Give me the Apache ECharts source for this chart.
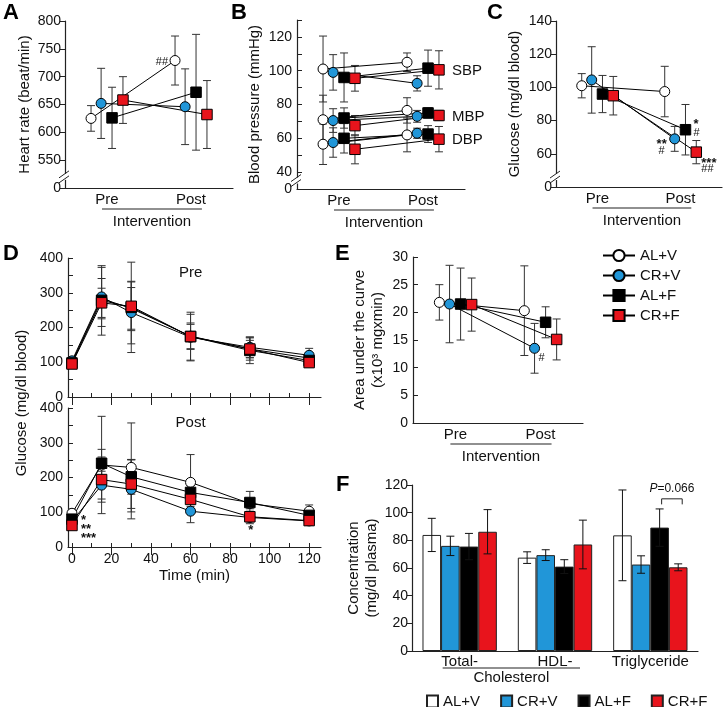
<!DOCTYPE html>
<html>
<head>
<meta charset="utf-8">
<title>Figure</title>
<script src="https://cdn.jsdelivr.net/npm/echarts@6/dist/echarts.min.js"></script>
<style>
  html, body { margin: 0; padding: 0; background: #fff; }
  #main { width: 725px; height: 707px; }
</style>
</head>
<body>
<div id="main"></div>
<script>
// groups (same order in every panel)
const groups = ['AL+V', 'CR+V', 'AL+F', 'CR+F'];
const phases = ['Pre', 'Post'];

// A: heart rate (beat/min), mean and SD
const hrPre = [625, 652, 626, 658];
const hrPreSd = [23, 63, 55, 42];
const hrPost = [729, 646, 672, 632];
const hrPostSd = [44, 68, 104, 61];

// B: blood pressure (mmHg)
const sbpPre = [101, 99, 96, 95.5];
const sbpPreSd = [19.5, 10.5, 14.5, 7.6];
const sbpPost = [105, 92.5, 101.5, 100.5];
const sbpPostSd = [5.5, 4.5, 10.7, 11.3];
const mbpPre = [71, 70.5, 72, 67.5];
const mbpPreSd = [14.5, 7, 6, 6];
const mbpPost = [76.5, 73, 75, 73.5];
const mbpPostSd = [7.5, 3.5, 3, 3];
const dbpPre = [56.5, 57.5, 60, 53.5];
const dbpPreSd = [12, 8.7, 8.7, 8.6];
const dbpPost = [62, 63, 62.5, 59.5];
const dbpPostSd = [10, 3, 5, 7.5];

// C: fasting glucose (mg/dl blood)
const gluPre = [101, 104.5, 96, 95];
const gluPreSd = [7.3, 20, 11.2, 11.6];
const gluPost = [97.5, 69, 74.5, 61];
const gluPostSd = [15.2, 7.5, 15.2, 7];

// D: OGTT glucose, one row per group
const times = [0, 15, 30, 60, 90, 120];
const timeTicks = [0, 20, 40, 60, 80, 100, 120];
const timeMinorTicks = [0, 10, 20, 30, 40, 50, 60, 70, 80, 90, 100, 110, 120];
const ogttPre = [
  [100, 283, 255, 175, 138, 112],
  [104, 288, 243, 172, 143, 120],
  [98, 278, 258, 174, 134, 105],
  [95, 271, 261, 174, 138, 99]
];
const ogttPreSd = [
  [12, 58, 60, 38, 25, 15],
  [10, 85, 90, 66, 30, 20],
  [12, 100, 130, 70, 38, 14],
  [10, 42, 70, 35, 32, 12]
];
const ogttPost = [
  [97, 236, 229, 186, 125, 103],
  [74, 178, 166, 103, 85, 75],
  [80, 241, 202, 157, 128, 91],
  [62, 194, 181, 137, 87, 76]
];
const ogttPostSd = [
  [12, 140, 128, 80, 15, 18],
  [10, 40, 85, 33, 18, 12],
  [12, 40, 50, 20, 32, 15],
  [10, 65, 70, 20, 15, 12]
];

// E: area under the curve (x10^3 mg x min)
const aucPre = [21.8, 21.5, 21.5, 21.4];
const aucPreSd = [3.2, 7, 6.5, 4.8];
const aucPost = [20.3, 13.5, 18.2, 15.1];
const aucPostSd = [8.1, 4.5, 2.8, 3.7];

// F: plasma lipids (mg/dl plasma), one row per group
const lipidCats = ['Total-', 'HDL-', 'Triglyceride'];
const lipid = [
  [83.9, 67.5, 83.6],
  [76, 69.3, 62.5],
  [75.5, 61, 89.2],
  [86.2, 77, 60.5]
];
const lipidSd = [
  [12, 4.2, 32.8],
  [7, 3.9, 6.3],
  [9.5, 5, 13.5],
  [16, 17.6, 2.5]
];

// look
const FONT = '"Liberation Sans", Arial, Helvetica, sans-serif';
const FILL = ['#ffffff', '#2196d8', '#000000', '#e8141c'];
const SYMBOL = ['circle', 'circle', 'rect', 'rect'];
const SIZE = [10, 10, 10.5, 10.5];
const XOFF = [-0.19, -0.07, 0.06, 0.19];
const ERR = '#333';
const INK = '#111';

const chart = echarts.init(document.getElementById('main'), null, { renderer: 'canvas' });

function renderErr(params, api) {
  const x = api.value(0);
  const lo = api.coord([x, api.value(1)]);
  const hi = api.coord([x, api.value(2)]);
  const w = 4;
  const st = { stroke: ERR, lineWidth: 1 };
  return {
    type: 'group',
    children: [
      { type: 'line', shape: { x1: lo[0], y1: lo[1], x2: hi[0], y2: hi[1] }, style: st },
      { type: 'line', shape: { x1: lo[0] - w, y1: lo[1], x2: lo[0] + w, y2: lo[1] }, style: st },
      { type: 'line', shape: { x1: hi[0] - w, y1: hi[1], x2: hi[0] + w, y2: hi[1] }, style: st }
    ]
  };
}

function renderBarErr(gi) {
  return function (params, api) {
    const k = api.value(0);
    const band = api.size([1, 0])[0];
    const off = (gi - 1.5) * band * 0.78 / 4;
    const lo = api.coord([k, api.value(1)]);
    const hi = api.coord([k, api.value(2)]);
    const x = lo[0] + off;
    const w = 4;
    const st = { stroke: '#111', lineWidth: 1 };
    return {
      type: 'group',
      children: [
        { type: 'line', shape: { x1: x, y1: lo[1], x2: x, y2: hi[1] }, style: st },
        { type: 'line', shape: { x1: x - w, y1: lo[1], x2: x + w, y2: lo[1] }, style: st },
        { type: 'line', shape: { x1: x - w, y1: hi[1], x2: x + w, y2: hi[1] }, style: st }
      ]
    };
  };
}

function groupLine(name, ax, i, pts, withSymbols) {
  return {
    type: 'line', name: name, xAxisIndex: ax, yAxisIndex: ax, data: pts, z: 3,
    symbol: SYMBOL[i], symbolSize: SIZE[i], showSymbol: withSymbols,
    itemStyle: { color: FILL[i], borderColor: '#000', borderWidth: 1 },
    lineStyle: { color: '#000', width: 1 },
    emphasis: { disabled: true }, silent: true
  };
}

function groupDots(name, ax, i, pts) {
  return {
    type: 'scatter', name: name, xAxisIndex: ax, yAxisIndex: ax, data: pts, z: 4,
    symbol: SYMBOL[i], symbolSize: SIZE[i],
    itemStyle: { color: FILL[i], borderColor: '#000', borderWidth: 1, opacity: 1 },
    emphasis: { disabled: true }, silent: true
  };
}

const series = [];

function prePost(ax, key, pre, preSd, post, postSd, legendLines) {
  groups.forEach((g, i) => {
    series.push({
      type: 'custom', xAxisIndex: ax, yAxisIndex: ax, z: 2, silent: true,
      renderItem: renderErr, encode: { x: 0, y: [1, 2] },
      data: [[1 + XOFF[i], pre[i] - preSd[i], pre[i] + preSd[i]],
             [2 + XOFF[i], post[i] - postSd[i], post[i] + postSd[i]]]
    });
  });
  groups.forEach((g, i) => {
    const pts = [[1 + XOFF[i], pre[i]], [2 + XOFF[i], post[i]]];
    series.push(groupLine(key + g, ax, i, pts, legendLines));
    if (!legendLines) series.push(groupDots(key + g + ':m', ax, i, pts));
  });
}

function ogtt(ax, key, means, sds) {
  groups.forEach((g, i) => {
    series.push({
      type: 'custom', xAxisIndex: ax, yAxisIndex: ax, z: 2, silent: true,
      renderItem: renderErr, encode: { x: 0, y: [1, 2] },
      data: times.map((t, k) => [t, means[i][k] - sds[i][k], means[i][k] + sds[i][k]])
    });
  });
  groups.forEach((g, i) => {
    const pts = times.map((t, k) => [t, means[i][k]]);
    series.push(groupLine(key + g, ax, i, pts, false));
    series.push(groupDots(key + g + ':m', ax, i, pts));
  });
}

prePost(0, 'A:', hrPre, hrPreSd, hrPost, hrPostSd, false);
prePost(1, 'SBP:', sbpPre, sbpPreSd, sbpPost, sbpPostSd, false);
prePost(1, 'MBP:', mbpPre, mbpPreSd, mbpPost, mbpPostSd, false);
prePost(1, 'DBP:', dbpPre, dbpPreSd, dbpPost, dbpPostSd, false);
prePost(2, 'C:', gluPre, gluPreSd, gluPost, gluPostSd, false);
ogtt(3, 'Dpre:', ogttPre, ogttPreSd);
ogtt(4, 'Dpost:', ogttPost, ogttPostSd);
prePost(5, 'E:', aucPre, aucPreSd, aucPost, aucPostSd, true);

groups.forEach((g, i) => {
  series.push({
    type: 'bar', name: 'F:' + g, xAxisIndex: 6, yAxisIndex: 6, data: lipid[i], z: 2,
    barGap: '0%', barCategoryGap: '22%',
    itemStyle: { color: FILL[i], borderColor: '#222', borderWidth: 1 },
    emphasis: { disabled: true }, silent: true
  });
});
groups.forEach((g, i) => {
  series.push({
    type: 'custom', xAxisIndex: 6, yAxisIndex: 6, z: 3, silent: true,
    renderItem: renderBarErr(i), encode: { x: 0, y: [1, 2] },
    data: lipidCats.map((c, k) => [k, lipid[i][k] - lipidSd[i][k], lipid[i][k] + lipidSd[i][k]])
  });
});

const axisLine = { show: true, onZero: false, lineStyle: { color: '#222', width: 1.2 } };
const tickLine = { color: '#222', width: 1 };
const label = { color: INK, fontSize: 14, fontFamily: FONT };
const nameStyle = { color: INK, fontSize: 15, fontFamily: FONT, lineHeight: 18 };

function phaseAxis(gi) {
  return {
    type: 'value', gridIndex: gi, min: 0.5, max: 2.5,
    axisLine: axisLine, axisTick: { show: false }, splitLine: { show: false },
    axisLabel: Object.assign({}, label, {
      fontSize: 15, margin: 4, customValues: [1, 2],
      formatter: v => phases[Math.round(v) - 1]
    })
  };
}

function timeAxis(gi, withLabels) {
  return {
    type: 'value', gridIndex: gi, min: -2, max: 126,
    axisLine: axisLine, splitLine: { show: false },
    axisTick: { show: true, inside: true, length: 4, customValues: timeMinorTicks, lineStyle: tickLine },
    axisLabel: withLabels
      ? Object.assign({}, label, { margin: 5, customValues: timeTicks })
      : { show: false },
    name: withLabels ? 'Time (min)' : '', nameLocation: 'middle', nameGap: 17,
    nameTextStyle: nameStyle
  };
}

function majorTickAxis(gi) {
  return {
    type: 'value', gridIndex: gi, min: -2, max: 126,
    axisLine: { show: false }, splitLine: { show: false }, axisLabel: { show: false },
    axisTick: { show: true, inside: true, length: 8, customValues: timeTicks, lineStyle: tickLine }
  };
}

function valAxis(gi, min, max, step, fmt, name, gap, inside) {
  return {
    type: 'value', gridIndex: gi, min: min, max: max, interval: step,
    axisLine: axisLine, splitLine: { show: false },
    axisTick: { show: true, inside: !!inside, length: 5, lineStyle: tickLine },
    axisLabel: Object.assign({}, label, { margin: inside ? 5 : 4 }, fmt ? { formatter: fmt } : {}),
    name: name, nameLocation: 'middle', nameGap: gap, nameTextStyle: nameStyle
  };
}

const option = {
  animation: false,
  backgroundColor: '#ffffff',
  textStyle: { fontFamily: FONT },
  grid: [
    { left: 65, top: 21, width: 168, height: 167 },
    { left: 297, top: 20, width: 168, height: 169 },
    { left: 556, top: 21, width: 166, height: 166 },
    { left: 68, top: 258, width: 253, height: 139 },
    { left: 68, top: 408, width: 253, height: 139 },
    { left: 413, top: 257, width: 170, height: 166 },
    { left: 412, top: 485, width: 286, height: 166 }
  ],
  xAxis: [
    phaseAxis(0), phaseAxis(1), phaseAxis(2),
    timeAxis(3, false), timeAxis(4, true),
    phaseAxis(5),
    {
      type: 'category', gridIndex: 6, data: lipidCats,
      axisLine: axisLine, axisTick: { show: false },
      axisLabel: Object.assign({}, label, { fontSize: 15, margin: 3, interval: 0 })
    },
    majorTickAxis(3), majorTickAxis(4)
  ],
  yAxis: [
    valAxis(0, 500, 800, 50, v => (v === 500 ? '0' : v), 'Heart rate (beat/min)', 31, false),
    valAxis(1, 30, 130, 10, v => (v === 30 ? '0' : (v % 20 === 0 && v <= 120 ? v : '')), 'Blood pressure (mmHg)', 33, true),
    valAxis(2, 40, 140, 20, v => (v === 40 ? '0' : v), 'Glucose (mg/dl blood)', 32, false),
    valAxis(3, 0, 400, 50, v => (v % 100 === 0 ? v : ''), '', 0, true),
    valAxis(4, 0, 400, 50, v => (v % 100 === 0 ? v : ''), '', 0, true),
    valAxis(5, 0, 30, 5, null, 'Area under the curve\n(x10³ mgxmin)', 26, true),
    valAxis(6, 0, 120, 20, null, 'Concentration\n(mg/dl plasma)', 25, false)
  ],
  legend: [
    {
      data: groups.map(g => 'E:' + g), orient: 'vertical', left: 602, top: 248, padding: 0,
      itemWidth: 32, itemHeight: 14, itemGap: 5, selectedMode: false,
      formatter: n => n.slice(2),
      textStyle: { color: INK, fontSize: 15, fontFamily: FONT }
    },
    {
      data: groups.map(g => 'F:' + g), orient: 'horizontal', left: 426, top: 694, padding: 0,
      itemWidth: 11, itemHeight: 12, itemGap: 20, selectedMode: false, icon: 'rect',
      formatter: n => n.slice(2),
      textStyle: { color: INK, fontSize: 15, fontFamily: FONT }
    }
  ],
  series: series
};

chart.setOption(option);

// ---- annotations drawn from the axes ----
function px(ax, x, y) {
  return chart.convertToPixel({ xAxisIndex: ax, yAxisIndex: ax }, [x, y]);
}
function txt(x, y, s, size, align, extra) {
  return {
    type: 'text', x: x, y: y, z: 100, silent: true,
    style: Object.assign({
      text: s, fill: INK, fontSize: size, fontFamily: FONT,
      align: align || 'center', verticalAlign: 'middle'
    }, extra || {})
  };
}
function seg(x1, y1, x2, y2, w) {
  return { type: 'line', z: 100, silent: true, shape: { x1, y1, x2, y2 }, style: { stroke: '#222', lineWidth: w || 1 } };
}

const g = [];

// panel letters
[['A', 3, 13], ['B', 231, 13], ['C', 487, 13], ['D', 3, 254], ['E', 335, 254], ['F', 336, 485]].forEach(l => {
  g.push(txt(l[1], l[2], l[0], 22, 'left', { fontWeight: 'bold', fill: '#000' }));
});

// D sub titles and shared y name
g.push(txt(px(3, 60, 0)[0], 273, 'Pre', 15));
g.push(txt(px(4, 60, 0)[0], 423, 'Post', 15));
g.push(Object.assign(txt(22, 403, 'Glucose (mg/dl blood)', 15), { rotation: Math.PI / 2 }));

// "Intervention" under the pre/post axes
[0, 1, 2, 5].forEach(ax => {
  const yMin = chart.getModel().getComponent('yAxis', ax).get('min');
  const a = px(ax, 1 - 0.06, yMin);
  const b = px(ax, 2 + 0.13, yMin);
  g.push(seg(a[0], a[1] + 21, b[0], b[1] + 21, 1.2));
  g.push(txt((a[0] + b[0]) / 2, a[1] + 34, 'Intervention', 15));
});

// axis breaks
[[0, 520], [1, 35], [2, 46]].forEach(b => {
  const p = px(b[0], 0.5, b[1]);
  g.push({ type: 'rect', z: 99, silent: true, shape: { x: p[0] - 2, y: p[1] - 3, width: 4, height: 6 }, style: { fill: '#fff' } });
  g.push(seg(p[0] - 6, p[1] + 1, p[0] + 4, p[1] - 6));
  g.push(seg(p[0] - 6, p[1] + 6, p[0] + 4, p[1] - 1));
});

// B measure labels next to the last group
[['SBP', sbpPost[3]], ['MBP', mbpPost[3]], ['DBP', dbpPost[3]]].forEach(m => {
  const p = px(1, 2 + XOFF[3], m[1]);
  g.push(txt(p[0] + 13, p[1] + 1, m[0], 15, 'left'));
});

// significance marks: [axis, x, y, text, dx, dy, align]
const marks = [
  [0, 2 + XOFF[0], hrPost[0], '##', -7, 1, 'right'],
  [2, 2 + XOFF[2], gluPost[2], '*', 8, -5, 'left'],
  [2, 2 + XOFF[2], gluPost[2], '#', 8, 3, 'left'],
  [2, 2 + XOFF[1], gluPost[1], '**', -8, 6, 'right'],
  [2, 2 + XOFF[1], gluPost[1], '#', -10, 12, 'right'],
  [2, 2 + XOFF[3], gluPost[3], '***', 5, 11, 'left'],
  [2, 2 + XOFF[3], gluPost[3], '##', 5, 17, 'left'],
  [4, 0, ogttPost[3][0], '*', 9, -5, 'left'],
  [4, 0, ogttPost[3][0], '**', 9, 4, 'left'],
  [4, 0, ogttPost[3][0], '***', 9, 13, 'left'],
  [4, 90, ogttPost[3][4], '*', 1, 14, 'center'],
  [5, 2 + XOFF[1], aucPost[1], '#', 7, 10, 'center']
];
marks.forEach(m => {
  const p = px(m[0], m[1], m[2]);
  const star = m[3].indexOf('*') >= 0;
  g.push(txt(p[0] + m[4], p[1] + m[5], m[3], star ? 13 : 11, m[6], star ? { fontWeight: 'bold' } : {}));
});

// F: cholesterol bracket and P value
{
  const c0 = px(6, 0, 0), c1 = px(6, 1, 0), c2 = px(6, 2, 0);
  const band = c1[0] - c0[0];
  const bw = band * 0.78 / 4;
  const u1 = c0[0] - 17, u2 = c1[0] + 25;
  g.push(seg(u1, c0[1] + 17, u2, c0[1] + 17, 1.2));
  g.push(txt((u1 + u2) / 2, c0[1] + 27, 'Cholesterol', 15));
  const xa = c2[0] + 0.5 * bw + 2, xb = c2[0] + 1.5 * bw + 4;
  const yt = px(6, 2, 110)[1], yb = px(6, 2, 106)[1];
  g.push({ type: 'polyline', z: 100, silent: true, shape: { points: [[xa, yb], [xa, yt], [xb, yt], [xb, yb]] }, style: { stroke: '#222', lineWidth: 1, fill: null } });
  g.push(txt((xa + xb) / 2, px(6, 2, 117)[1], '{i|P}=0.066', 12, 'center', { rich: { i: { fontStyle: 'italic', fontSize: 12, fontFamily: FONT, fill: INK } } }));
}

chart.setOption({ graphic: { elements: g } });
</script>
</body>
</html>
